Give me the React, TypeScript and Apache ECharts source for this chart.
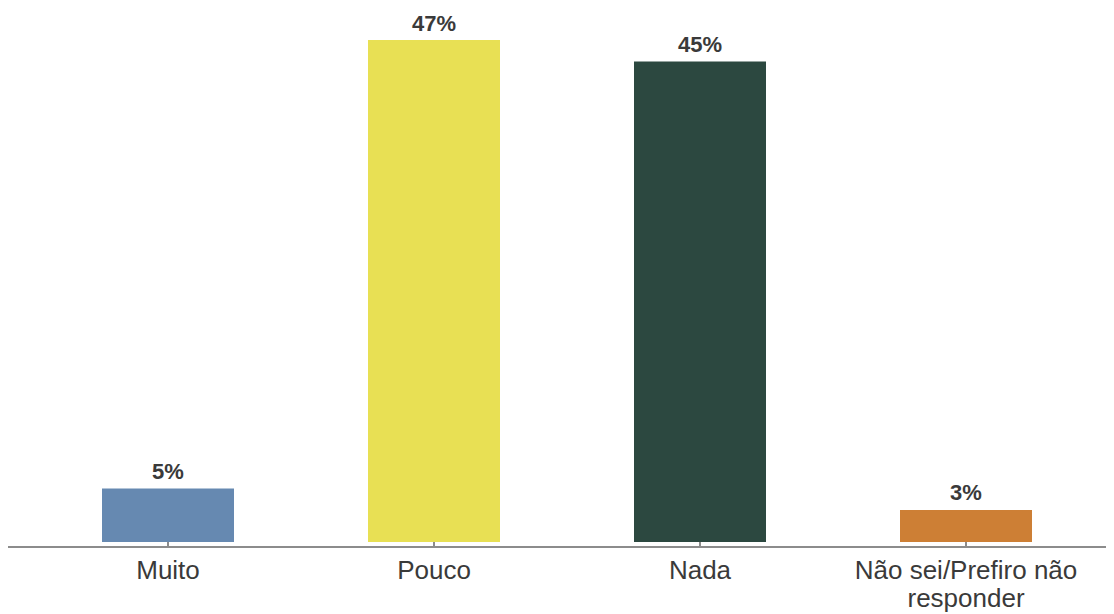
import React, { useEffect, useRef } from "react";
import * as echarts from "echarts";

const categories = ["Muito", "Pouco", "Nada", "Não sei/Prefiro não\nresponder"];
const values = [5, 47, 45, 3];
const colors = ["#6689B1", "#E8E054", "#2C4840", "#CD7F35"];

export default function App() {
  const ref = useRef<HTMLDivElement>(null);
  useEffect(() => {
    if (!ref.current) return;
    const chart = echarts.init(ref.current, undefined, { renderer: "svg" });
    chart.setOption({
      animation: false,
      textStyle: { fontFamily: "'Liberation Sans', Arial, sans-serif" },
      grid: { left: 27, right: 15, top: 0, bottom: 72, containLabel: false },
      xAxis: {
        type: "category",
        data: categories,
        offset: 5,
        axisLine: { show: false },
        axisTick: { show: true, alignWithLabel: true, length: 6, lineStyle: { color: "#8c8c8c", width: 2 } },
        axisLabel: { fontSize: 26, color: "#3a3a3a", margin: 9, lineHeight: 28, interval: 0 },
      },
      yAxis: { type: "value", min: 0, max: 50, show: false },
      graphic: [
        {
          type: "line",
          shape: { x1: 0, y1: 539, x2: 1106, y2: 539 },
          style: { stroke: "#8c8c8c", lineWidth: 2 },
          z: 10,
        },
      ],
      series: [
        {
          type: "bar",
          barWidth: 132,
          data: values.map((v, i) => ({ value: v, itemStyle: { color: colors[i] } })),
          label: {
            show: true,
            position: "top",
            distance: 6,
            formatter: "{c}%",
            fontSize: 22,
            fontWeight: "bold",
            color: "#3a3a3a",
          },
        },
      ],
    });
    return () => chart.dispose();
  }, []);
  return <div ref={ref} style={{ width: 1106, height: 606 }} />;
}
